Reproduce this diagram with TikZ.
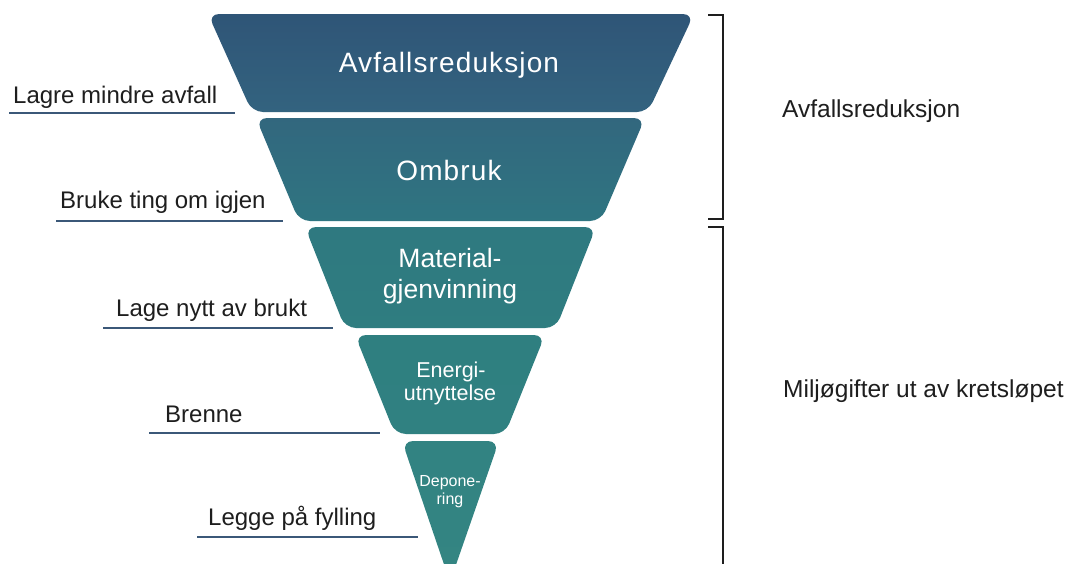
\documentclass[tikz,border=0pt]{standalone}
\usepackage{fontspec}
\setmainfont{Liberation Sans}
\newfontfamily\tierfont[LetterSpace=4]{Liberation Sans}
\definecolor{lineblue}{HTML}{3B5878}
\definecolor{tAt}{HTML}{2F5577}
\definecolor{tAb}{HTML}{33637F}
\definecolor{tBt}{HTML}{32677E}
\definecolor{tBb}{HTML}{2F7581}
\definecolor{tCt}{HTML}{2F7980}
\definecolor{tCb}{HTML}{2F7D80}
\definecolor{tDt}{HTML}{2F7F80}
\definecolor{tDb}{HTML}{308181}
\definecolor{tEt}{HTML}{328382}
\definecolor{tEb}{HTML}{348582}
\definecolor{ink}{HTML}{1E1E1E}
\begin{document}
\begin{tikzpicture}[x=1pt,y=-1pt,
  tier/.style={rounded corners=11pt},
  intext/.style={text=white,anchor=base,inner sep=0pt},
  lbl/.style={text=ink,anchor=base west,inner sep=0pt,font=\fontsize{24}{28}\selectfont},
  rlbl/.style={text=ink,anchor=base west,inner sep=0pt,font=\fontsize{24.5}{29}\selectfont},
  uline/.style={draw=lineblue,line width=2.4pt},
  brack/.style={draw=ink,line width=2.4pt}]
\useasboundingbox (0,0) rectangle (1068,563);
\fill[white] (0,0) rectangle (1068,563);
% tiers
\shade[tier,top color=tAt,bottom color=tAb] (208,14) -- (694,14) -- (648,112) -- (252,112) -- cycle;
\shade[tier,top color=tBt,bottom color=tBb] (256,118) -- (645,118) -- (601,221) -- (299,221) -- cycle;
\shade[tier,top color=tCt,bottom color=tCb] (305,227) -- (596,227) -- (556,328) -- (345,328) -- cycle;
\shade[tier,top color=tDt,bottom color=tDb] (355,335) -- (545,335) -- (505,434) -- (395,434) -- cycle;
\shade[tier,top color=tEt,bottom color=tEb] (402,441) -- (499,441) -- (450,582) -- cycle;
% tier texts
\node[intext,font=\tierfont\fontsize{28}{32}\selectfont] (t1) at (449,72) {Avfallsreduksjon};
\node[intext,font=\tierfont\fontsize{28}{32}\selectfont] (t2) at (449,180) {Ombruk};
\node[intext,font=\fontsize{26.5}{30}\selectfont] (t3a) at (450,267) {Material-};
\node[intext,font=\fontsize{26.5}{30}\selectfont] (t3b) at (450,298) {gjenvinning};
\node[intext,font=\fontsize{21.5}{25}\selectfont] (t4a) at (451,377) {Energi-};
\node[intext,font=\fontsize{21.5}{25}\selectfont] (t4b) at (450,400) {utnyttelse};
\node[intext,font=\fontsize{16}{19}\selectfont] (t5a) at (450,486) {Depone-};
\node[intext,font=\fontsize{16}{19}\selectfont] (t5b) at (450,504) {ring};
% left labels
\node[lbl] (l1) at (13,103) {Lagre mindre avfall};
\node[lbl] (l2) at (60,208) {Bruke ting om igjen};
\node[lbl] (l3) at (116,316) {Lage nytt av brukt};
\node[lbl] (l4) at (165,422) {Brenne};
\node[lbl] (l5) at (208,525) {Legge på fylling};
\coordinate (u1a) at (9,113);   \coordinate (u1b) at (235,113);
\coordinate (u2a) at (56,221);  \coordinate (u2b) at (283,221);
\coordinate (u3a) at (103,328); \coordinate (u3b) at (333,328);
\coordinate (u4a) at (149,433); \coordinate (u4b) at (380,433);
\coordinate (u5a) at (197,537); \coordinate (u5b) at (418,537);
\draw[uline] (u1a) -- (u1b);
\draw[uline] (u2a) -- (u2b);
\draw[uline] (u3a) -- (u3b);
\draw[uline] (u4a) -- (u4b);
\draw[uline] (u5a) -- (u5b);
% brackets
\coordinate (b1a) at (708,15); \coordinate (b1b) at (723,15);
\coordinate (b1c) at (723,219); \coordinate (b1d) at (708,219);
\coordinate (b2a) at (708,227); \coordinate (b2b) at (723,227);
\coordinate (b2c) at (723,575);
\draw[brack] (b1a) -- (b1b) -- (b1c) -- (b1d);
\draw[brack] (b2a) -- (b2b) -- (b2c);
% right labels
\node[rlbl] (r1) at (782,117) {Avfallsreduksjon};
\node[rlbl] (r2) at (783,397) {Miljøgifter ut av kretsløpet};
\end{tikzpicture}
\end{document}
